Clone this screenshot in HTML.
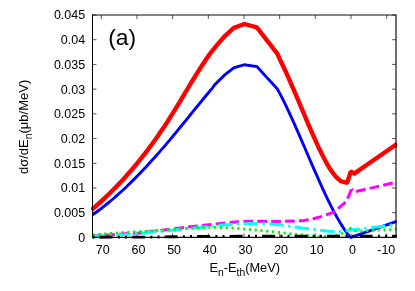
<!DOCTYPE html><html><head><meta charset="utf-8"><style>html,body{margin:0;padding:0;background:#fff}svg{display:block;will-change:transform}text{font-family:"Liberation Sans",sans-serif;fill:#000}</style></head><body>
<svg width="415" height="291" viewBox="0 0 415 291">
<rect width="415" height="291" fill="#fff"/>
<clipPath id="c"><rect x="91.0" y="15.0" width="306.2" height="224.1"/></clipPath>
<path d="M101.28,237.4v-4M101.28,15.0v4M136.95,237.4v-4M136.95,15.0v4M172.62,237.4v-4M172.62,15.0v4M208.30,237.4v-4M208.30,15.0v4M243.98,237.4v-4M243.98,15.0v4M279.65,237.4v-4M279.65,15.0v4M315.32,237.4v-4M315.32,15.0v4M351.00,237.4v-4M351.00,15.0v4M386.68,237.4v-4M386.68,15.0v4M92.5,237.40h4M396.0,237.40h-4M92.5,212.69h4M396.0,212.69h-4M92.5,187.98h4M396.0,187.98h-4M92.5,163.27h4M396.0,163.27h-4M92.5,138.56h4M396.0,138.56h-4M92.5,113.84h4M396.0,113.84h-4M92.5,89.13h4M396.0,89.13h-4M92.5,64.42h4M396.0,64.42h-4M92.5,39.71h4M396.0,39.71h-4M92.5,15.00h4M396.0,15.00h-4" stroke="#222" stroke-width="0.75" fill="none"/>
<g clip-path="url(#c)" fill="none" stroke-linejoin="miter" stroke-miterlimit="6">
<polyline points="91.5,210.0 94.5,207.4 97.5,204.7 100.5,202.0 103.5,199.2 106.5,196.4 109.5,193.5 112.5,190.5 115.5,187.5 118.5,184.4 121.5,181.2 124.5,177.9 127.5,174.6 130.5,171.2 133.5,167.7 136.5,164.1 139.5,160.4 142.5,156.7 145.5,152.8 148.5,148.9 151.5,144.8 154.5,140.7 157.5,136.5 160.5,132.1 163.5,127.7 166.5,123.2 169.5,118.5 172.5,113.7 175.5,108.9 178.5,103.9 181.5,99.0 184.5,93.9 187.5,88.9 190.5,83.9 193.5,79.0 196.5,74.1 199.5,69.3 202.5,64.7 205.5,60.2 208.5,55.9 211.5,51.8 215.0,47.4 224.4,36.6 233.8,27.9 244.3,24.0 256.9,27.5 277.3,53.6 280.3,60.3 283.3,66.5 286.3,72.9 289.3,79.6 292.3,86.5 295.3,93.4 298.3,100.5 301.3,107.6 304.3,114.7 307.3,121.8 310.3,128.8 313.3,135.6 316.3,142.3 319.3,148.8 322.3,154.9 325.3,160.7 328.3,166.1 331.3,170.8 334.3,174.9 337.3,178.2 341.0,181.3 346.6,182.7 347.5,182.0 350.4,172.6 351.2,172.0 354.6,173.4 365.5,165.8 385.0,152.3 397.3,143.8" stroke="#ff0000" stroke-width="4.4"/>
<polyline points="92.5,214.8 95.5,212.7 98.5,210.5 101.5,208.3 104.5,205.9 107.5,203.5 110.5,201.0 113.5,198.5 116.5,195.9 119.5,193.2 122.5,190.5 125.5,187.7 128.5,184.8 131.5,181.9 134.5,178.9 137.5,175.8 140.5,172.7 143.5,169.6 146.5,166.4 149.5,163.1 152.5,159.8 155.5,156.5 158.5,153.1 161.5,149.6 164.5,146.2 167.5,142.6 170.5,139.1 173.5,135.5 176.5,131.9 179.5,128.2 182.5,124.5 185.5,120.8 188.5,117.1 191.5,113.4 194.5,109.7 197.5,106.0 200.5,102.3 203.5,98.7 206.5,95.0 209.5,91.5 212.5,87.9 215.0,84.5 224.4,75.1 233.8,67.9 244.5,64.7 256.9,66.6 277.2,88.8 280.2,94.1 283.2,100.1 286.2,106.2 289.2,112.6 292.2,119.2 295.2,125.9 298.2,132.7 301.2,139.6 304.2,146.5 307.2,153.5 310.2,160.5 313.2,167.4 316.2,174.2 319.2,181.0 322.2,187.6 325.2,194.1 328.2,200.3 331.2,206.4 334.2,212.1 337.2,217.6 340.2,222.8 343.2,227.6 346.2,232.0 349.2,236.1 351.0,237.3 396.6,221.3" stroke="#0000ff" stroke-width="2.9"/>
<polyline points="93.0,235.9 140.0,232.9 180.0,228.0 211.0,224.5 235.0,222.0 252.0,221.2 280.0,221.6 304.1,220.5 312.6,219.0 321.0,216.6 333.9,212.1 346.1,201.7 349.0,195.5 351.4,189.2" stroke="#ff00ff" stroke-width="3" stroke-dasharray="9.8 4.1" stroke-dashoffset="1.8"/>
<polyline points="351.4,189.2 354.3,192.0 396.5,182.1" stroke="#ff00ff" stroke-width="3" stroke-dasharray="9.8 4.1" stroke-dashoffset="8.0"/>
<polyline points="93.0,236.3 110.0,235.4 125.0,234.6 140.0,233.4 180.0,229.4 211.0,226.3 235.0,224.0 252.0,223.4 270.0,223.9 280.0,224.8 293.0,226.8 304.1,228.2 310.5,229.0 313.9,229.4 328.2,231.3 343.9,231.5 349.9,230.0 364.0,228.5 380.0,226.6 396.5,224.4" stroke="#00ffff" stroke-width="3" stroke-dasharray="14.5 4.3 2.5 4.3" stroke-dashoffset="2.3"/>
<polyline points="93.0,234.8 122.0,232.6 133.7,232.0 145.3,231.3 180.0,228.7 211.0,227.2 235.0,228.2 255.0,230.0 270.0,231.4 280.0,232.5 289.0,233.6 295.0,234.2 301.0,234.8 307.0,235.4 312.0,236.0 318.0,236.3 330.0,236.3 341.0,234.2 343.6,232.6" stroke="#00f400" stroke-width="2.8" stroke-dasharray="2.2 3.6" stroke-dashoffset="0.4"/>
<polyline points="349.5,229.1 350.6,228.4 355.4,230.9 361.2,231.0 367.0,230.8 379.0,230.1 396.5,229.2" stroke="#00f400" stroke-width="2.8" stroke-dasharray="2.2 3.6" stroke-dashoffset="0"/>
<polyline points="92.5,237.2 150.0,237.1 175.0,236.7 210.0,236.4 240.0,236.3 300.0,236.2 396.8,236.2" stroke="#000" stroke-width="2.9" stroke-dasharray="13 5.3 2 5.1 2 5.1" stroke-dashoffset="25.4"/>
</g>
<path d="M92.5,15.0H396.0V237.4H92.5" fill="none" stroke="#0a0a0a" stroke-width="1.15"/>
<path d="M92.5,14.5V237.9" fill="none" stroke="#000" stroke-width="1"/>
<text x="102.8" y="253.9" font-size="12.5" text-anchor="middle">70</text>
<text x="138.5" y="253.9" font-size="12.5" text-anchor="middle">60</text>
<text x="174.1" y="253.9" font-size="12.5" text-anchor="middle">50</text>
<text x="209.8" y="253.9" font-size="12.5" text-anchor="middle">40</text>
<text x="245.5" y="253.9" font-size="12.5" text-anchor="middle">30</text>
<text x="281.1" y="253.9" font-size="12.5" text-anchor="middle">20</text>
<text x="316.8" y="253.9" font-size="12.5" text-anchor="middle">10</text>
<text x="352.5" y="253.9" font-size="12.5" text-anchor="middle">0</text>
<text x="386.3" y="253.9" font-size="12.5" text-anchor="middle">-10</text>
<text x="85.2" y="241.8" font-size="12.5" text-anchor="end">0</text>
<text x="85.2" y="217.1" font-size="12.5" text-anchor="end">0.005</text>
<text x="85.2" y="192.4" font-size="12.5" text-anchor="end">0.01</text>
<text x="85.2" y="167.7" font-size="12.5" text-anchor="end">0.015</text>
<text x="85.2" y="143.0" font-size="12.5" text-anchor="end">0.02</text>
<text x="85.2" y="118.2" font-size="12.5" text-anchor="end">0.025</text>
<text x="85.2" y="93.5" font-size="12.5" text-anchor="end">0.03</text>
<text x="85.2" y="68.8" font-size="12.5" text-anchor="end">0.035</text>
<text x="85.2" y="44.1" font-size="12.5" text-anchor="end">0.04</text>
<text x="85.2" y="19.4" font-size="12.5" text-anchor="end">0.045</text>
<text x="108.2" y="44.5" font-size="22.9">(a)</text>
<text id="xl" x="244.8" y="271.8" font-size="12.8" text-anchor="middle">E<tspan font-size="10.3" dy="4.3">n</tspan><tspan dy="-4.3">-E</tspan><tspan font-size="10.3" dy="4.3">th</tspan><tspan dy="-4.3">(MeV)</tspan></text>
<text id="yl" transform="translate(27.9,126.9) rotate(-90)" font-size="13" text-anchor="middle">dσ/dE<tspan font-size="10.3" dy="4.3">n</tspan><tspan dy="-4.3">(μb/MeV)</tspan></text>
</svg></body></html>
